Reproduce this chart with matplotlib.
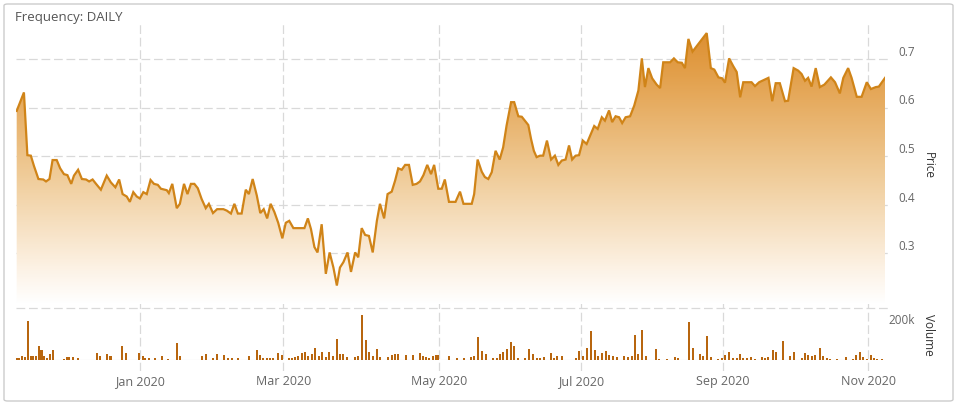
import matplotlib.pyplot as plt
import numpy as np
from matplotlib.colors import LinearSegmentedColormap
from matplotlib.patches import FancyBboxPatch

plt.rcParams['font.family'] = ['Open Sans', 'DejaVu Sans']

# price line vertices: trading session number and close price
sessions = [0.2, 2.3, 3.3, 4.3, 5.2, 6.5, 7.9, 8.7, 9.7, 10.6, 11.8, 12.8, 13.9, 14.9, 16.0, 16.8,
            18.0, 19.1, 20.3, 21.2, 22.2, 23.2, 24.6, 26.3, 27.5, 28.8, 29.9, 30.9, 32.1, 33.0,
            34.0, 35.0, 35.9, 36.9, 37.9, 39.0, 40.0, 41.1, 42.0, 43.7, 44.3, 45.3, 46.6, 47.5,
            48.7, 49.7, 50.7, 51.7, 52.7, 53.8, 55.0, 55.9, 57.1, 58.3, 60.1, 61.1, 62.3, 63.3,
            64.3, 65.4, 66.6, 67.5, 68.6, 69.8, 70.8, 71.8, 72.8, 73.8, 74.9, 76.0, 77.2, 78.2,
            79.2, 80.4, 83.6, 84.6, 85.5, 86.5, 87.4, 88.6, 89.8, 90.9, 92.0, 93.0, 93.9, 94.9,
            96.1, 97.1, 98.3, 99.2, 100.2, 101.2, 102.3, 103.4, 104.6, 105.5, 106.7, 107.7, 108.9,
            109.9, 110.8, 111.8, 112.8, 113.9, 115.0, 116.1, 117.1, 118.1, 119.2, 120.3, 121.2,
            122.4, 123.4, 124.3, 125.5, 127.4, 128.7, 129.7, 132.1, 132.8, 133.8, 135.0, 135.9,
            136.9, 137.9, 139.0, 140.2, 141.2, 142.2, 143.5, 144.4, 145.6, 146.6, 147.7, 148.5,
            149.3, 150.1, 150.9, 151.9, 152.8, 153.9, 155.1, 156.2, 157.2, 158.2, 159.3, 160.3,
            161.2, 162.2, 163.2, 164.3, 165.4, 166.4, 167.6, 168.6, 169.8, 170.7, 171.9, 172.8,
            173.8, 174.8, 175.7, 176.7, 178.0, 179.2, 180.4, 181.4, 182.3, 183.3, 184.4, 185.7,
            186.7, 187.6, 189.6, 190.7, 191.8, 193.0, 193.9, 194.9, 196.1, 200.2, 201.4, 202.4,
            203.6, 204.7, 205.5, 206.7, 207.9, 208.9, 209.9, 210.8, 213.2, 214.2, 215.4, 218.1,
            219.2, 220.2, 221.4, 222.9, 223.8, 225.4, 226.7, 227.7, 228.7, 229.6, 230.6, 231.8,
            233.0, 234.3, 236.2, 237.4, 238.8, 239.8, 241.2, 242.2, 243.7, 245.1, 246.6, 247.8,
            249.2, 250.1, 251.9]
prices = [0.593, 0.631, 0.502, 0.501, 0.480, 0.453, 0.452, 0.448, 0.453, 0.492, 0.492, 0.475,
          0.463, 0.461, 0.443, 0.460, 0.472, 0.453, 0.452, 0.448, 0.452, 0.443, 0.431, 0.460,
          0.446, 0.436, 0.452, 0.422, 0.417, 0.406, 0.426, 0.417, 0.413, 0.426, 0.422, 0.451,
          0.443, 0.441, 0.433, 0.430, 0.424, 0.443, 0.393, 0.402, 0.443, 0.422, 0.443, 0.443,
          0.434, 0.412, 0.393, 0.402, 0.383, 0.391, 0.391, 0.388, 0.382, 0.402, 0.382, 0.382,
          0.431, 0.422, 0.453, 0.419, 0.383, 0.391, 0.372, 0.402, 0.385, 0.363, 0.331, 0.363,
          0.367, 0.352, 0.352, 0.372, 0.350, 0.313, 0.302, 0.360, 0.258, 0.302, 0.271, 0.234,
          0.271, 0.282, 0.302, 0.262, 0.302, 0.292, 0.352, 0.338, 0.336, 0.302, 0.367, 0.402,
          0.372, 0.422, 0.427, 0.450, 0.475, 0.472, 0.482, 0.482, 0.441, 0.443, 0.448, 0.461,
          0.482, 0.463, 0.482, 0.433, 0.433, 0.452, 0.406, 0.406, 0.427, 0.402, 0.402, 0.422,
          0.493, 0.468, 0.457, 0.453, 0.467, 0.511, 0.493, 0.518, 0.563, 0.611, 0.611, 0.582,
          0.581, 0.571, 0.564, 0.535, 0.511, 0.498, 0.501, 0.501, 0.532, 0.493, 0.501, 0.482,
          0.491, 0.493, 0.522, 0.493, 0.501, 0.502, 0.532, 0.525, 0.542, 0.562, 0.556, 0.580,
          0.573, 0.594, 0.570, 0.582, 0.580, 0.568, 0.580, 0.582, 0.604, 0.635, 0.701, 0.642,
          0.681, 0.660, 0.647, 0.640, 0.693, 0.693, 0.701, 0.693, 0.692, 0.681, 0.741, 0.715,
          0.753, 0.681, 0.678, 0.662, 0.660, 0.651, 0.701, 0.685, 0.673, 0.621, 0.652, 0.652,
          0.644, 0.652, 0.661, 0.613, 0.650, 0.650, 0.613, 0.614, 0.681, 0.676, 0.669, 0.655,
          0.661, 0.643, 0.681, 0.642, 0.647, 0.662, 0.652, 0.629, 0.661, 0.681, 0.661, 0.622,
          0.622, 0.652, 0.638, 0.642, 0.643, 0.661]

# daily volume in thousands of shares
vol_sessions = [0.2, 1.0, 1.7, 2.6, 3.5, 4.3, 5.0, 5.8, 6.7, 7.4, 8.2, 9.1, 9.9, 10.6, 13.9, 14.7,
                15.4, 16.4, 18.0, 23.4, 24.3, 26.5, 27.4, 30.6, 31.8, 35.7, 36.7, 37.5, 38.6, 40.3,
                42.2, 44.1, 46.6, 47.5, 53.8, 55.1, 57.0, 58.2, 60.3, 61.5, 62.5, 64.4, 67.6, 69.8,
                70.7, 71.7, 72.7, 73.6, 74.6, 76.0, 77.0, 79.2, 80.0, 80.9, 81.8, 82.8, 83.7, 84.7,
                85.7, 86.7, 87.9, 88.7, 89.9, 90.8, 92.0, 93.0, 93.9, 94.9, 96.0, 98.3, 99.2, 100.2,
                101.4, 102.4, 103.4, 104.6, 105.5, 107.9, 108.9, 109.9, 110.8, 113.0, 115.0, 117.1,
                117.9, 118.8, 119.8, 120.8, 121.7, 122.4, 125.6, 127.7, 129.9, 131.8, 132.8, 133.8,
                135.0, 136.1, 138.3, 139.3, 140.3, 141.2, 142.2, 143.4, 144.4, 145.4, 147.5, 148.6,
                149.8, 150.9, 151.9, 153.0, 155.0, 155.9, 156.9, 158.2, 162.3, 163.3, 164.4, 165.4,
                166.6, 167.7, 168.8, 169.8, 170.9, 172.0, 173.1, 174.3, 176.2, 177.5, 178.5, 179.4,
                180.4, 181.4, 182.6, 185.5, 186.5, 188.6, 191.0, 192.0, 195.0, 196.3, 198.3, 199.2,
                200.2, 201.4, 203.6, 204.6, 205.5, 206.7, 207.9, 208.9, 209.9, 210.8, 211.8, 213.0,
                214.2, 216.2, 217.1, 218.1, 219.3, 220.3, 222.4, 224.3, 225.6, 227.8, 228.7, 229.7,
                230.8, 231.6, 233.0, 234.0, 235.0, 235.9, 238.1, 240.6, 242.7, 243.5, 244.6, 245.6,
                246.8, 247.7, 248.7, 249.7, 250.9]
volumes = [8, 8, 14, 10, 149, 14, 17, 17, 55, 38, 17, 8, 23, 38, 4, 10,
           10, 10, 7, 27, 17, 23, 17, 55, 27, 27, 14, 8, 8, 8,
           14, 4, 65, 17, 17, 23, 8, 23, 19, 8, 8, 8, 14, 38,
           20, 8, 8, 8, 8, 27, 20, 8, 8, 10, 17, 27, 30, 17,
           23, 45, 17, 32, 10, 30, 17, 81, 23, 23, 10, 10, 17, 173,
           77, 32, 17, 42, 10, 10, 20, 23, 23, 20, 20, 27,
           17, 10, 8, 17, 19, 20, 14, 8, 8, 10, 17, 90,
           36, 23, 8, 8, 23, 32, 42, 70, 55, 8, 8, 42,
           23, 8, 8, 10, 27, 8, 14, 14, 8, 33, 14, 46,
           112, 38, 17, 27, 33, 19, 17, 10, 17, 10, 17, 96,
           23, 115, 17, 42, 4, 4, 10, 7, 147, 46, 23, 17,
           94, 13, 4, 7, 20, 30, 8, 8, 23, 8, 8, 10,
           4, 10, 8, 10, 40, 30, 73, 17, 30, 8, 27, 20,
           17, 20, 45, 17, 8, 4, 4, 10, 4, 20, 30, 13,
           4, 20, 8, 4, 4]

# month ticks placed at the session where each month begins
tick_pos = [35.9, 77.5, 122.6, 163.8, 204.9, 247.0]
tick_labels = ['Jan 2020', 'Mar 2020', 'May 2020', 'Jul 2020', 'Sep 2020', 'Nov 2020']
price_ticks = [0.3, 0.4, 0.5, 0.6, 0.7]

line_color = '#d08418'
bar_color = '#b8660f'
grid_color = '#d9d9d9'
text_color = '#666666'
dash = (0, (7, 3))
x_lim = (0, 252)
p_lim = (0.196, 0.782)

fig = plt.figure(figsize=(9.6, 4.06), dpi=100)
W, H = 960, 406

def frac(left, top, right, bottom):
    return [left / W, 1 - bottom / H, (right - left) / W, (bottom - top) / H]

# outer rounded border
fig.patches.append(FancyBboxPatch((4 / W, 4 / H), 949 / W, 397 / H,
                                  boxstyle='round,pad=0,rounding_size=0.004',
                                  transform=fig.transFigure, fill=False,
                                  edgecolor='#cccccc', linewidth=1))

# frame axes: vertical month gridlines and the date labels
frame = fig.add_axes(frac(16, 23, 885.4, 372))
frame.set_xlim(*x_lim)
frame.set_ylim(0, 1)
frame.patch.set_alpha(0)
frame.set_xticks(tick_pos)
frame.set_xticklabels(tick_labels, fontsize=9, color=text_color)
frame.tick_params(axis='x', length=0, pad=2)
frame.set_yticks([])
frame.grid(axis='x', color=grid_color, linestyle=dash, linewidth=0.9)
for s in frame.spines.values():
    s.set_visible(False)

# price pane
ax = fig.add_axes(frac(16, 20, 885.4, 305))
ax.set_xlim(*x_lim)
ax.set_ylim(*p_lim)
ax.patch.set_alpha(0)
ax.set_xticks([])
ax.set_yticks([])
for s in ax.spines.values():
    s.set_visible(False)
for v in price_ticks:
    ax.plot([0, 253], [v, v], color=grid_color, linestyle=dash, linewidth=0.9, clip_on=False, zorder=1)
    ax.annotate(f'{v:.1f}', xy=(1, v), xycoords=('axes fraction', 'data'),
                xytext=(9, 5.5), textcoords='offset points', va='center', ha='left',
                fontsize=8.5, color=text_color)

# gradient fill under the price line
fade = LinearSegmentedColormap.from_list('fade', [
    (0.0, (1.0, 1.0, 1.0)),
    (0.12, (0.99, 0.95, 0.90)),
    (0.45, (0.94, 0.80, 0.60)),
    (0.8, (0.89, 0.63, 0.30)),
    (1.0, (0.86, 0.54, 0.16))])
poly = ax.fill_between(sessions, prices, p_lim[0], color='none', linewidth=0)
grad = np.linspace(0, 1, 256).reshape(-1, 1)
im = ax.imshow(grad, cmap=fade, origin='lower', aspect='auto',
               extent=[x_lim[0], x_lim[1], p_lim[0], p_lim[1]], zorder=2)
im.set_clip_path(poly.get_paths()[0], transform=ax.transData)
ax.plot(sessions, prices, color=line_color, linewidth=1.6, zorder=3, solid_joinstyle='miter')
ax.text(1.05, 0.49, 'Price', transform=ax.transAxes, rotation=-90, va='center', ha='center',
        fontsize=8.5, color='#333333')

# volume pane
vax = fig.add_axes(frac(16, 309, 885.4, 361))
vax.set_xlim(*x_lim)
vax.set_ylim(0, 200)
vax.patch.set_alpha(0)
vax.set_xticks([])
vax.set_yticks([])
for s in vax.spines.values():
    s.set_visible(False)
vax.plot([0, 253], [200, 200], color=grid_color, linestyle=dash, linewidth=0.9, clip_on=False)
vax.plot([0, 251.5], [0, 0], color='#cccccc', linewidth=0.8)
vax.bar(vol_sessions, volumes, width=0.6, color=bar_color, zorder=3)
vax.annotate('200k', xy=(1, 200), xycoords=('axes fraction', 'data'),
             xytext=(2, -8), textcoords='offset points', va='center', ha='left',
             fontsize=8.5, color=text_color)
vax.text(1.05, 0.5, 'Volume', transform=vax.transAxes, rotation=-90, va='center', ha='center',
         fontsize=8.5, color='#333333')

fig.text(15 / W, 1 - 18 / H, 'Frequency: DAILY', fontsize=9.5, color='#555555', va='center')

fig.savefig('out.png', dpi=100)
